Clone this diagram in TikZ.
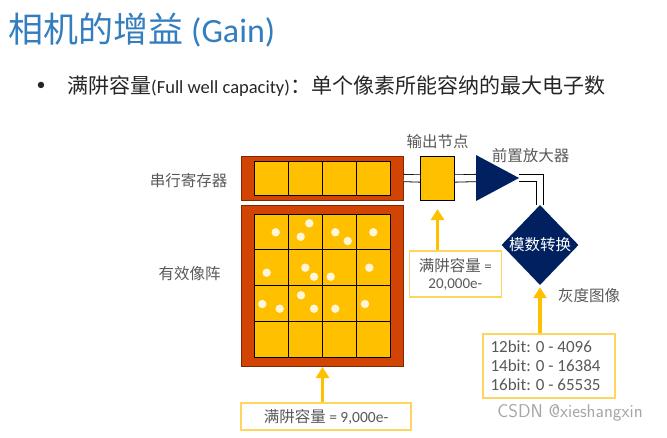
\documentclass[tikz,border=0pt]{standalone}
\usepackage{fontspec}
\setmainfont{Carlito}
\newfontfamily\cjk{Noto Sans CJK SC}
\usetikzlibrary{positioning}
\usetikzlibrary{arrows.meta}
\usetikzlibrary{shapes.geometric}
\definecolor{rust}{RGB}{210,68,4}
\definecolor{gold}{RGB}{255,192,0}
\definecolor{navy}{RGB}{0,32,96}
\definecolor{txtgray}{RGB}{89,89,89}
\definecolor{titleblue}{RGB}{52,125,190}
\definecolor{boxline}{RGB}{255,212,95}
\newcommand{\fs}[1]{\fontsize{#1}{#1}\selectfont}

\begin{document}
\begin{tikzpicture}[x=1pt, y=-1pt, every node/.style={font=\fs{15.5}, text=txtgray},
    frame/.style={fill=rust, draw=rust!60!black, line width=0.6pt, inner sep=0pt},
    cell/.style={draw=black, line width=1pt, fill=gold},
    wire/.style={draw=black, line width=0.8pt, double=white, double distance=6.5pt},
    up/.style={draw=gold, line width=3.5pt, -{Triangle[width=13pt,length=11pt]}},
    infobox/.style={draw=boxline, line width=1.3pt, fill=white, inner sep=0pt}]
    \useasboundingbox (0,0) rectangle (667,437);
    % heading
    \node[anchor=west, text=titleblue, font=\fs{34}] (title) at (5,30) {{\cjk\fs{35}相机的增益} (Gain)};
    \node[text=black!85, font=\fs{18}] (dot) at (41,86) {\textbullet};
    \node[anchor=west, text=black!85, font=\fs{18.5}, inner sep=0pt] (fwc) at (67,86)
        {{\cjk\fs{21}满阱容量}(Full well capacity){\cjk\fs{21}：单个像素所能容纳的最大电子数}};
    % sensor
    \node[frame, minimum width=162pt, minimum height=44pt] (sreg) at (322.5,178) {};
    \node[frame, minimum width=162pt, minimum height=161pt] (array) at (322.5,286.2) {};
    \foreach \i in {0,...,3} {
        \draw[cell] (254+34*\i,161.7) rectangle (288+34*\i,195.7);
        \foreach \j in {0,...,3}
            \draw[cell] (254+34.2*\i,214+35.8*\j) rectangle (288.2+34.2*\i,249.8+35.8*\j);
    }
    % electrons
    \foreach \x/\y in {275.7/232.3, 309.3/223.3, 300.7/236.7, 335.3/232.3, 347.7/241, 373.3/232.3,
        266.7/272.7, 305.3/267.7, 314/276.7, 330.7/276.7, 369.3/267.7,
        262.3/304, 279.7/308.7, 301/295.3, 314/308.7, 335.3/308.7, 365/304}
        \fill[white!85!gold] (\x,\y) circle (4.2pt);
    \node[anchor=east] (lbsreg) at (231,180.5) {\cjk 串行寄存器};
    \node (lbarray) at (189.5,274) {\cjk 有效像阵};
    % readout chain
    \node[cell, minimum width=34pt, minimum height=44pt] (outnode) at (437.5,178.5) {};
    \node[above=4pt of outnode] (lbout) {\cjk 输出节点};
    \coordinate (ampin) at (476,178);
    \coordinate (amptip) at (519,178);
    \node[diamond, fill=navy, text=white, inner sep=0pt, minimum width=77pt, minimum height=80pt] (adc) at (540,245) {\cjk 模数转换};
    \draw[wire] (sreg.east) -- (outnode.west);
    \draw[wire] (outnode.east) -- (ampin);
    \draw[wire] (amptip) -| (adc.north);
    \fill[navy] (476,155) -- (amptip) -- (476,201) -- cycle;
    \node (lbamp) at (530.5,156) {\cjk 前置放大器};
    \node (lbgray) at (589,296) {\cjk 灰度图像};
    % values
    \node[infobox, minimum width=92pt, minimum height=46pt, align=center, font=\fs{15}] (fwcout) at (455.3,274)
        {{\cjk\fs{15.5}满阱容量} =\\[2pt]20,000e-};
    \node[infobox, minimum width=132pt, minimum height=64pt] (bitbox) at (549,366) {};
    \node[anchor=west, align=left, font=\fs{17}, inner sep=0pt] (bittext) at ([xshift=8pt]bitbox.west)
        {12bit: 0 - 4096\\[2pt]14bit: 0 - 16384\\[2pt]16bit: 0 - 65535};
    \node[infobox, minimum width=170pt, minimum height=27pt, font=\fs{15.5}] (fwcpix) at (326,416.5)
        {{\cjk 满阱容量} = 9,000e-};
    \draw[up, shorten >=8pt] (fwcout.north -| outnode.south) -- (outnode.south);
    \draw[up, shorten >=2pt] (bitbox.north -| adc.south) -- (adc.south);
    \draw[up] (fwcpix.north -| array.south) -- (array.south);
    \node[text=black!35, font=\fs{18.5}\sffamily] (mark) at (570,413) {CSDN @xieshangxin};
\end{tikzpicture}
\end{document}
